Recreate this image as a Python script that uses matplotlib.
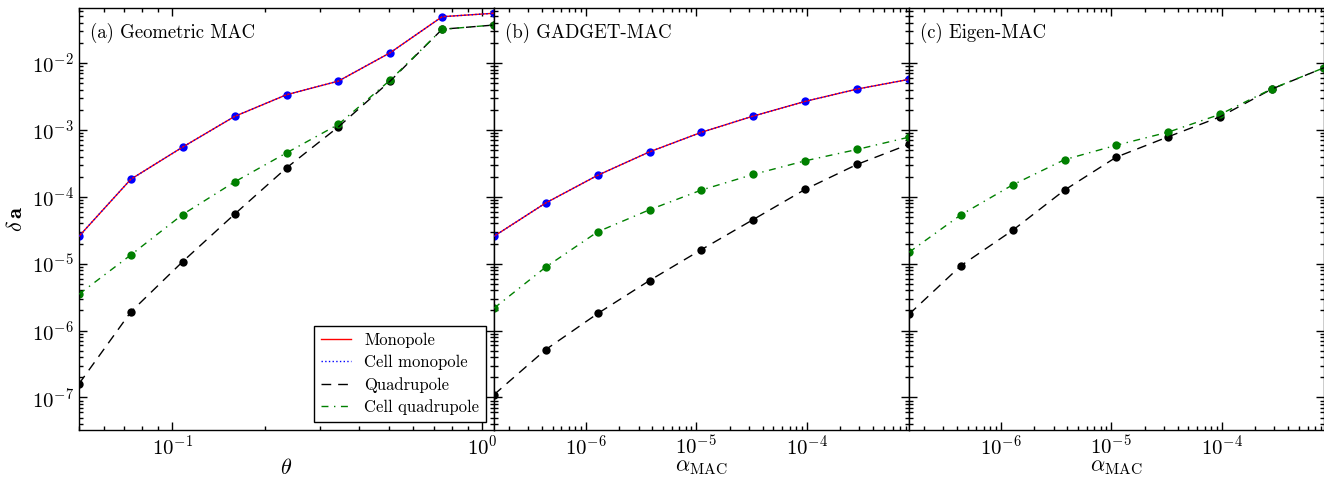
import numpy as np
import matplotlib
matplotlib.use('Agg')
import matplotlib.pyplot as plt

plt.rcParams['font.family'] = 'serif'
plt.rcParams['font.serif'] = ['cmr10']
plt.rcParams['mathtext.fontset'] = 'cm'
plt.rcParams['axes.formatter.use_mathtext'] = True
plt.rcParams['xtick.direction'] = 'in'
plt.rcParams['ytick.direction'] = 'in'
plt.rcParams['xtick.top'] = True
plt.rcParams['ytick.right'] = True
plt.rcParams['xtick.major.size'] = 6
plt.rcParams['ytick.major.size'] = 6
plt.rcParams['xtick.minor.size'] = 3
plt.rcParams['ytick.minor.size'] = 3
plt.rcParams['axes.linewidth'] = 1.0

# (a) geometric MAC: opening angle theta
theta = [0.05, 0.0735, 0.108, 0.159, 0.234, 0.344, 0.506, 0.744, 1.094]
a_mono = [2.57e-5, 1.83e-4, 5.53e-4, 1.59e-3, 3.36e-3, 5.37e-3, 1.43e-2, 4.93e-2, 5.55e-2]
a_cell_mono = [2.57e-5, 1.83e-4, 5.53e-4, 1.59e-3, 3.36e-3, 5.37e-3, 1.43e-2, 4.93e-2, 5.55e-2]
a_quad = [1.6e-7, 1.9e-6, 1.07e-5, 5.5e-5, 2.71e-4, 1.11e-3, 5.4e-3, 3.2e-2, 3.7e-2]
a_cell_quad = [3.5e-6, 1.35e-5, 5.43e-5, 1.67e-4, 4.54e-4, 1.21e-3, 5.57e-3, 3.19e-2, 3.71e-2]

# (b), (c): alpha_MAC
alpha = [1.47e-7, 4.33e-7, 1.28e-6, 3.77e-6, 1.11e-5, 3.28e-5, 9.68e-5, 2.86e-4, 8.45e-4]
b_mono = [2.57e-5, 8.1e-5, 2.1e-4, 4.7e-4, 9.2e-4, 1.61e-3, 2.67e-3, 4.08e-3, 5.7e-3]
b_cell_mono = [2.57e-5, 8.1e-5, 2.1e-4, 4.7e-4, 9.2e-4, 1.61e-3, 2.67e-3, 4.08e-3, 5.7e-3]
b_quad = [1.1e-7, 5.2e-7, 1.8e-6, 5.6e-6, 1.62e-5, 4.57e-5, 1.29e-4, 3.05e-4, 6.1e-4]
b_cell_quad = [2.16e-6, 8.9e-6, 3.0e-5, 6.4e-5, 1.26e-4, 2.16e-4, 3.45e-4, 5.1e-4, 7.8e-4]

c_quad = [1.75e-6, 9.3e-6, 3.16e-5, 1.26e-4, 3.92e-4, 7.9e-4, 1.57e-3, 4.1e-3, 8.5e-3]
c_cell_quad = [1.48e-5, 5.36e-5, 1.51e-4, 3.59e-4, 5.9e-4, 9.27e-4, 1.71e-3, 4.13e-3, 8.5e-3]

panels = [
    ('(a) Geometric MAC', theta, a_mono, a_cell_mono, a_quad, a_cell_quad, r'$\theta$'),
    ('(b) GADGET-MAC', alpha, b_mono, b_cell_mono, b_quad, b_cell_quad, r'$\alpha_{\rm MAC}$'),
    ('(c) Eigen-MAC', alpha, None, None, c_quad, c_cell_quad, r'$\alpha_{\rm MAC}$'),
]

fig = plt.figure(figsize=(13.24, 4.78), dpi=100)
left, bottom, w, h = 79 / 1324, 1 - 430 / 478, 415 / 1324, 422 / 478
axes = []
for i, (title, x, mono, cmono, quad, cquad, xlabel) in enumerate(panels):
    ax = fig.add_axes([left + i * w, bottom, w, h])
    axes.append(ax)
    if mono is not None:
        ax.plot(x, cmono, 'o', color='blue', ms=6, mew=0, zorder=2)
        ax.plot(x, mono, '-', color='red', lw=1, label='Monopole', zorder=3)
        ax.plot(x, cmono, ':', color='blue', lw=1, label='Cell monopole', zorder=3)
    ax.plot(x, quad, 'o', color='black', ms=6, mew=0, zorder=2)
    ax.plot(x, cquad, 'o', color='green', ms=6, mew=0, zorder=2)
    ax.plot(x, quad, '--', color='black', lw=1, dashes=(7, 5), label='Quadrupole', zorder=3)
    ax.plot(x, cquad, '-.', color='green', lw=1, dashes=(5, 4, 1, 4), label='Cell quadrupole', zorder=3)
    ax.set_xscale('log')
    ax.set_yscale('log')
    ax.set_xlim(min(x), max(x))
    ax.set_ylim(3.26e-8, 6.65e-2)
    ax.set_xlabel(xlabel, fontsize=16, labelpad=-1)
    ax.text(0.027, 0.94, title, transform=ax.transAxes, fontsize=13.5, va='center')
    ax.tick_params(labelsize=15)
    ax.tick_params(which='both', width=1)
    if i > 0:
        ax.set_yticklabels([])
    else:
        ax.set_ylabel(r'$\delta\,\mathbf{a}$', fontsize=16)
        leg = ax.legend(loc='lower right', fontsize=12, fancybox=False, handlelength=1.8,
                        borderaxespad=0.5, framealpha=1, labelspacing=0.4)
        leg.get_frame().set_edgecolor('black')

plt.savefig('out.png', dpi=100)
